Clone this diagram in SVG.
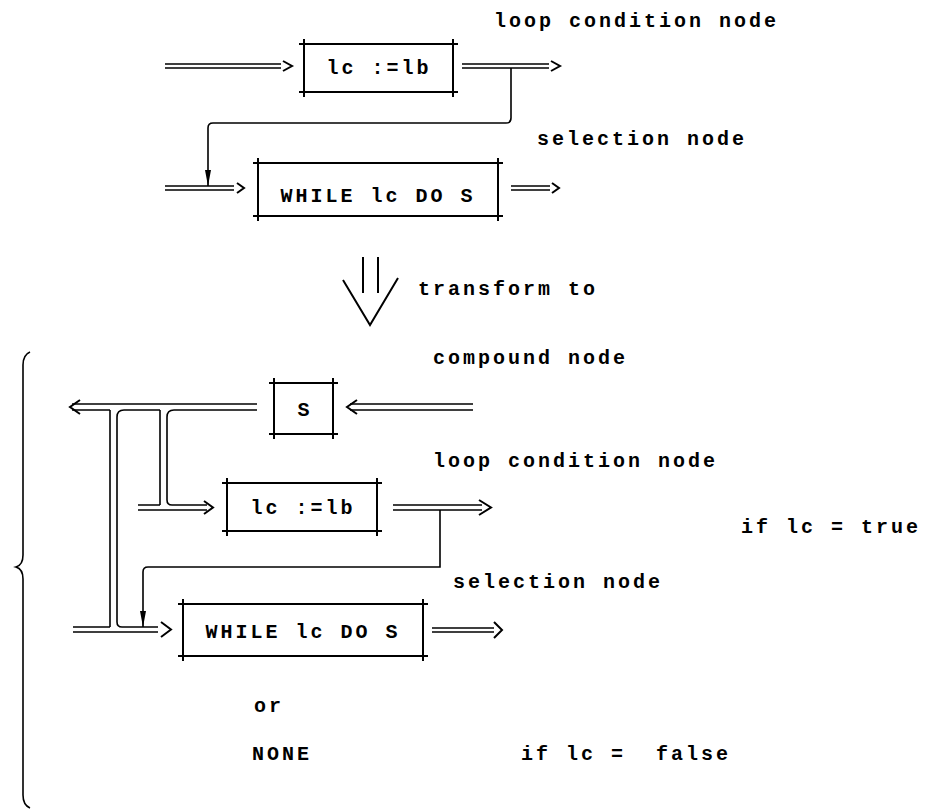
<svg xmlns="http://www.w3.org/2000/svg" width="927" height="810" viewBox="0 0 927 810">
<style>
.t{font-family:"Liberation Mono","DejaVu Sans Mono",monospace;font-weight:bold;font-size:20px;letter-spacing:3px;fill:#000;white-space:pre}
.c{text-anchor:middle}
.b{stroke:#000;stroke-width:2;fill:none}
.l{stroke:#000;stroke-width:1.6;fill:none}
.h{stroke:#000;stroke-width:2;fill:none;stroke-linejoin:miter}
</style>
<defs>
<marker id="dn" viewBox="0 0 16 6" refX="16" refY="3" markerWidth="16" markerHeight="6" markerUnits="userSpaceOnUse" orient="auto">
<path d="M0,0 L16,3 L0,6 Z" fill="#000"/>
</marker>
</defs>
<rect width="927" height="810" fill="#fff"/>

<!-- Top part -->
<g id="label-loop1"><text class="t" x="494" y="27">loop condition node</text></g>
<g id="node-lc1">
<path class="b" d="M299,44 H458 M299,92 H458 M304,39 V97 M453,39 V97"/>
<text class="t c" x="379" y="74">lc :=lb</text>
</g>
<g id="label-sel1"><text class="t" x="537" y="145">selection node</text></g>
<g id="node-while1">
<path class="b" d="M253,163 H503 M253,216 H503 M258,158 V221 M498,158 V221"/>
<text class="t c" x="378" y="202">WHILE lc DO S</text>
</g>
<g id="transform">
<path class="b" d="M363,257 V293 M378,257 V293 M343,280 L370,325 L398,278"/>
<text class="t" x="418" y="295">transform to</text>
</g>

<!-- Bottom part -->
<path id="brace" class="l" d="M30,352 Q23,355 23,365 L23,555 Q23,565 16,567 Q23,569 23,579 L23,795 Q23,805 30,808"/>
<g id="label-compound"><text class="t" x="433" y="364">compound node</text></g>
<g id="node-S">
<path class="b" d="M269,383 H338 M269,434 H338 M274,378 V439 M333,378 V439"/>
<text class="t c" x="305" y="416">S</text>
</g>
<g id="label-loop2"><text class="t" x="433" y="467">loop condition node</text></g>
<g id="node-lc2">
<path class="b" d="M222,483 H382 M222,531 H382 M227,478 V536 M377,478 V536"/>
<text class="t c" x="303" y="514">lc :=lb</text>
</g>
<g id="label-true"><text class="t" x="741" y="533">if lc = true</text></g>
<g id="label-sel2"><text class="t" x="453" y="588">selection node</text></g>
<g id="node-while2">
<path class="b" d="M178,604 H428 M178,656 H428 M183,599 V661 M423,599 V661"/>
<text class="t c" x="303" y="638">WHILE lc DO S</text>
</g>
<g id="label-or"><text class="t" x="254" y="712">or</text></g>
<g id="label-none"><text class="t" x="252" y="760">NONE</text></g>
<g id="label-false"><text class="t" x="521" y="760">if lc =  false</text></g>

<g id="connectors">
<!-- row 1 -->
<path class="l" d="M165,64 H281 M165,68 H281"/>
<path class="h" d="M283,61 L292,66 L283,71"/>
<path class="l" d="M462,64 H549 M462,68 H549"/>
<path class="h" d="M551,61 L560,66 L551,71"/>
<path class="l" d="M511,68 V118 Q511,123 506,123 H213 Q208,123 208,128 V186" marker-end="url(#dn)"/>
<!-- row 2 -->
<path class="l" d="M165,186 H234 M165,190 H234"/>
<path class="h" d="M237,183 L244,188 L237,193"/>
<path class="l" d="M511,186 H550 M511,190 H550"/>
<path class="h" d="M552,183 L559,188 L552,193"/>

<!-- S row bus -->
<path class="h" d="M80,400 L70,407 L80,414"/>
<path class="l" d="M72,404 H257"/>
<path class="l" d="M72,410 H110 M124,410 H160 M174,410 H257"/>
<path class="h" d="M357,400 L347,407 L357,414"/>
<path class="l" d="M350,404 H473 M350,410 H473"/>
<!-- branch 1 to WHILE row -->
<path class="l" d="M110,410 V627"/>
<path class="l" d="M124,410 Q117,410 117,417 V622 Q117,627 122,627"/>
<!-- branch 2 to lc row -->
<path class="l" d="M160,410 V505"/>
<path class="l" d="M174,410 Q167,410 167,417 V500 Q167,505 172,505"/>

<!-- lc row -->
<path class="l" d="M138,505 H160 M172,505 H207 M138,510 H207"/>
<path class="h" d="M204,501 L213,507.5 L204,514"/>
<path class="l" d="M393,505 H482 M393,510 H482"/>
<path class="h" d="M479,500 L491,507.5 L479,515"/>
<path class="l" d="M440,510 V567 H148 Q143,567 143,572 V627" marker-end="url(#dn)"/>

<!-- WHILE row -->
<path class="l" d="M73,627 H110 M122,627 H158 M73,632 H158"/>
<path class="h" d="M161,622 L171,629.5 L161,637"/>
<path class="l" d="M432,628 H494 M432,632 H494"/>
<path class="h" d="M494,622 L502,630 L494,638"/>
</g>
</svg>
